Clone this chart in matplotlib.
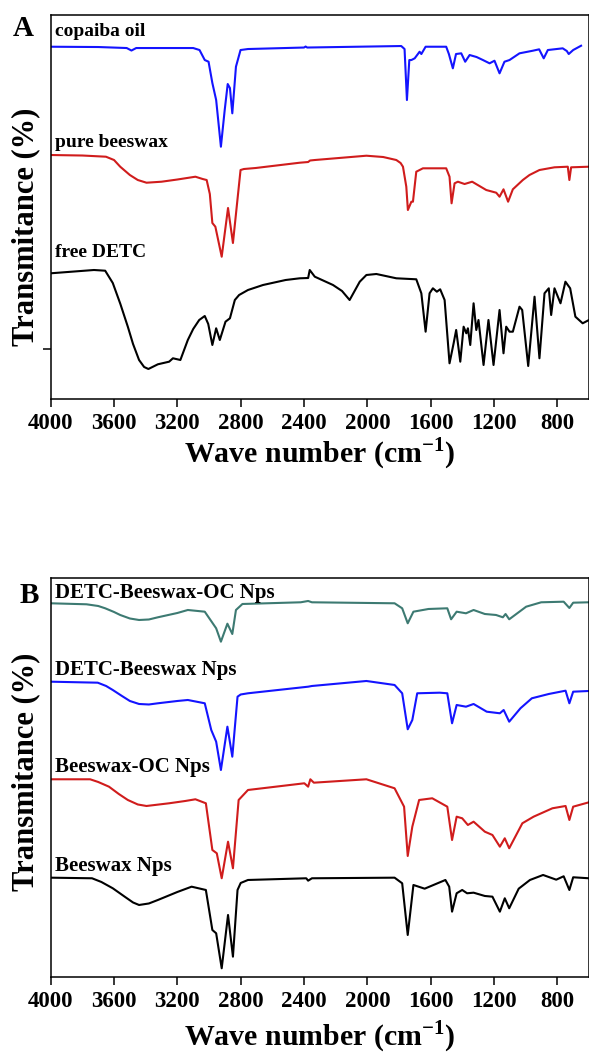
import matplotlib
matplotlib.use("Agg")
import matplotlib.pyplot as plt

plt.rcParams['font.family'] = ['Liberation Serif', 'DejaVu Serif']
plt.rcParams['font.weight'] = 'bold'
plt.rcParams['mathtext.fontset'] = 'custom'
plt.rcParams['mathtext.rm'] = 'Liberation Serif:bold'
plt.rcParams['mathtext.bf'] = 'Liberation Serif:bold'

# ---- Panel A spectra (wavenumber, transmittance a.u. with vertical offsets) ----
copaiba_wn = [4000, 3700, 3520, 3490, 3460, 3100, 3060, 3027, 3003, 2979, 2955, 2925, 2901, 2882,
              2868, 2853, 2830, 2801, 2754, 2400, 2390, 2380, 1786, 1765, 1750, 1735, 1722, 1701,
              1670, 1659, 1632, 1502, 1485, 1460, 1440, 1407, 1382, 1354, 1310, 1270, 1228, 1197,
              1165, 1134, 1102, 1039, 955, 915, 886, 860, 766, 740, 728, 700, 650]
copaiba_t = [352.3, 352, 351, 348.5, 351, 351, 349, 339, 337.3, 316, 299, 252.3, 289, 315,
             311, 285.7, 332.3, 349, 350, 351.5, 352.5, 351.5, 353, 350, 299, 339, 339, 340.7,
             347.3, 345, 352.3, 352.3, 345, 330.7, 345, 345.7, 337.3, 344, 342, 339, 335.7, 338.3,
             325.7, 337.3, 339, 345.7, 348.3, 349.7, 340.7, 349, 350.7, 348, 345, 349, 353.3]

beeswax_wn = [4000, 3800, 3651, 3600, 3561, 3500, 3450, 3395, 3300, 3200, 3086, 3040, 3015, 2995,
              2979, 2960, 2920, 2880, 2849, 2801, 2780, 2706, 2427, 2374, 2362, 2332, 2006, 1900,
              1817, 1790, 1775, 1754, 1744, 1722, 1712, 1691, 1649, 1502, 1481, 1468, 1449, 1428,
              1386, 1338, 1249, 1186, 1165, 1140, 1111, 1081, 1018, 976, 913, 818, 734, 724, 713, 600]
beeswax_t = [244, 243.5, 242.3, 239, 232.3, 224, 219, 216.3, 217.3, 219.5, 222.3, 220, 219, 205,
             176, 172.3, 142.3, 191, 156, 229, 230, 231, 236.3, 237, 238.5, 239, 243.3, 242,
             239, 236, 232.3, 212.3, 189, 197.3, 197.3, 227.3, 230.7, 230.7, 222.3, 195.7, 215.7, 217.3,
             215, 217.3, 209, 206.3, 202.3, 209.7, 197.3, 209.7, 219, 224, 229, 231.7, 232.3, 219, 231.7, 232.3]

detc_wn = [4000, 3727, 3656, 3608, 3560, 3513, 3480, 3442, 3410, 3383, 3323, 3252, 3228, 3181,
           3134, 3100, 3062, 3027, 3005, 2979, 2955, 2932, 2896, 2868, 2837, 2810, 2754, 2659,
           2516, 2427, 2374, 2364, 2332, 2217, 2160, 2112, 2048, 2006, 1943, 1817, 1691, 1659,
           1632, 1607, 1586, 1561, 1540, 1512, 1481, 1455, 1439, 1413, 1392, 1375, 1365, 1350,
           1329, 1312, 1298, 1266, 1235, 1203, 1165, 1140, 1123, 1102, 1081, 1039, 1022, 984,
           944, 913, 881, 854, 839, 818, 780, 749, 719, 686, 640, 600]
detc_t = [125.7, 129, 128.3, 116, 95, 72.3, 55, 39, 32, 30, 34.7, 37.3, 40.7, 39,
          59, 70, 79, 83, 75, 54, 70.7, 59, 77.3, 80.7, 99, 104, 109, 114,
          119, 120.7, 121, 129, 122.3, 114, 108, 99, 117.3, 124, 125, 120.7, 119.7, 105.7,
          67.3, 105.7, 110.7, 107.3, 109.7, 99, 35.7, 55.7, 69, 37.3, 72.3, 65.7, 70.7, 54,
          95.7, 69, 79, 34, 79, 34, 89, 45.7, 72.3, 67.3, 67.3, 92.3, 89, 33,
          102.3, 40.7, 105.7, 110.7, 84, 110.7, 95.7, 117.3, 110.7, 82.3, 75.7, 79]

# ---- Panel B spectra ----
detc_bw_oc_wn = [4000, 3774, 3700, 3656, 3600, 3561, 3500, 3442, 3380, 3323, 3200, 3134, 3027, 2991,
                 2955, 2925, 2884, 2853, 2830, 2789, 2421, 2374, 2350, 1828, 1780, 1745, 1709, 1614,
                 1495, 1471, 1436, 1377, 1329, 1258, 1187, 1144, 1127, 1104, 997, 902, 760, 724, 700, 600]
detc_bw_oc_t = [373.7, 372.7, 371, 368.7, 365, 362, 358.5, 357, 357.5, 359.7, 364, 367, 365.3, 357,
                348.7, 335.3, 353.3, 343, 367, 373, 374.7, 376, 374.7, 373.7, 368.7, 353.7, 365.3, 368,
                368.7, 357.7, 365.3, 363.7, 367, 363, 362, 359.7, 363, 357.7, 370.3, 374.7, 375.3, 369, 374.3, 374.7]

detc_bw_wn = [4000, 3703, 3650, 3608, 3550, 3500, 3442, 3380, 3323, 3200, 3134, 3027, 2986, 2955,
              2925, 2884, 2853, 2820, 2800, 2754, 2374, 2350, 2006, 1828, 1780, 1745, 1716, 1685,
              1543, 1495, 1465, 1436, 1377, 1329, 1246, 1163, 1139, 1104, 1033, 961, 854, 748,
              724, 700, 600]
detc_bw_t = [295.3, 294.3, 291, 287, 281, 276, 273, 272.5, 273.7, 276, 277, 273.7, 247, 235.3,
             207, 250.3, 220.3, 280.3, 282.5, 283.7, 290.3, 291, 296, 292, 283.7, 247.7, 257, 283.7,
             284.3, 283.7, 253.7, 272, 270.3, 273, 265.3, 263.7, 267, 255.3, 268.7, 278.7, 283, 286.3,
             273.7, 285.3, 286]

bw_oc_wn = [4000, 3751, 3700, 3632, 3570, 3513, 3450, 3395, 3252, 3150, 3086, 3020, 2979, 2951,
            2920, 2880, 2849, 2813, 2754, 2398, 2374, 2360, 2338, 2006, 1828, 1768, 1745, 1716,
            1673, 1590, 1495, 1465, 1436, 1401, 1365, 1329, 1258, 1210, 1163, 1132, 1104, 1021,
            950, 831, 748, 724, 700, 600]
bw_oc_t = [197.7, 197.7, 195, 190.3, 183, 177, 172.5, 171, 173.7, 176, 177.7, 173.7, 127, 123.7,
           98.7, 135.3, 108.7, 177, 187, 193.7, 190.3, 197.7, 194.3, 197.7, 188.7, 170.3, 121, 150.3,
           177, 178.7, 170.3, 137, 160.3, 158.7, 152, 155.3, 145.3, 142, 130.3, 138.7, 128.7, 153.7,
           160.3, 168.7, 171, 157, 170.3, 174.7]

bw_wn = [4000, 3739, 3680, 3608, 3530, 3480, 3442, 3380, 3323, 3200, 3110, 3020, 2979, 2955,
         2920, 2880, 2849, 2820, 2800, 2754, 2386, 2374, 2350, 1828, 1780, 1745, 1709, 1638,
         1507, 1483, 1465, 1436, 1401, 1370, 1329, 1258, 1210, 1163, 1132, 1104, 1044, 973,
         890, 807, 760, 724, 700, 600]
bw_t = [99.3, 98.7, 95, 88.7, 80, 74.5, 72, 73.5, 77, 85, 90.3, 87, 47, 43.7,
        8.7, 62, 20.3, 87, 94, 97, 98.7, 96.3, 98.7, 99.3, 93.7, 42, 92, 88.3,
        97, 90.3, 65.3, 83.7, 87, 83.7, 84.3, 81, 80.3, 65.3, 78.7, 68.7, 88.3, 97,
        102, 97.3, 100.7, 87, 99.7, 98.7]

xticks = [4000, 3600, 3200, 2800, 2400, 2000, 1600, 1200, 800]

panel_a = [
    (copaiba_wn, copaiba_t, '#1414ff', 'copaiba oil', 363),
    (beeswax_wn, beeswax_t, '#d01c1c', 'pure beeswax', 252),
    (detc_wn, detc_t, 'black', 'free DETC', 142),
]
panel_b = [
    (detc_bw_oc_wn, detc_bw_oc_t, '#3d7a72', 'DETC-Beeswax-OC Nps', 379),
    (detc_bw_wn, detc_bw_t, '#1414ff', 'DETC-Beeswax Nps', 302),
    (bw_oc_wn, bw_oc_t, '#d01c1c', 'Beeswax-OC Nps', 205),
    (bw_wn, bw_t, 'black', 'Beeswax Nps', 106),
]

fig = plt.figure(figsize=(5.89, 10.53), dpi=100)
ax_a = fig.add_axes([0.0861, 0.6211, 0.9139, 0.3651])
ax_b = fig.add_axes([0.0861, 0.0722, 0.9139, 0.3789])


def style_axis(ax, top, label_fs, series, ylab_y, xlab_y):
    for wn, t, color, name, ytxt in series:
        ax.plot(wn, t, color=color, lw=1.5)
        ax.text(3975, ytxt, name, fontsize=label_fs, fontweight='bold', va='baseline', ha='left')
    ax.set_xlim(4000, 600)
    ax.set_ylim(0, top)
    ax.set_xticks(xticks)
    ax.set_xticklabels([str(v) for v in xticks])
    ax.tick_params(axis='x', direction='out', length=6, width=1.1, labelsize=16.5, pad=4, top=False)
    ax.tick_params(axis='y', direction='out', length=6, width=1.1, labelleft=False, right=False)
    for sp in ax.spines.values():
        sp.set_linewidth(1.1)
    ax.set_ylabel('Transmitance (%)', fontsize=22, fontweight='bold')
    ax.yaxis.set_label_coords(-0.046, ylab_y)
    ax.yaxis.label.set_verticalalignment('center')
    ax.set_xlabel('Wave number (cm$^{\\mathbf{-1}}$)', fontsize=21.5, fontweight='bold')
    ax.xaxis.set_label_coords(0.5, xlab_y)


style_axis(ax_a, 384.5, 14, panel_a, 0.447, -0.095)
ax_a.set_yticks([50])
style_axis(ax_b, 399, 15, panel_b, 0.514, -0.105)
ax_b.set_yticks([])

fig.text(0.022, 1 - 36 / 1053, 'A', fontsize=21, fontweight='bold', va='baseline', ha='left')
fig.text(0.034, 1 - 603 / 1053, 'B', fontsize=21, fontweight='bold', va='baseline', ha='left')

fig.savefig('out.png', dpi=100)
